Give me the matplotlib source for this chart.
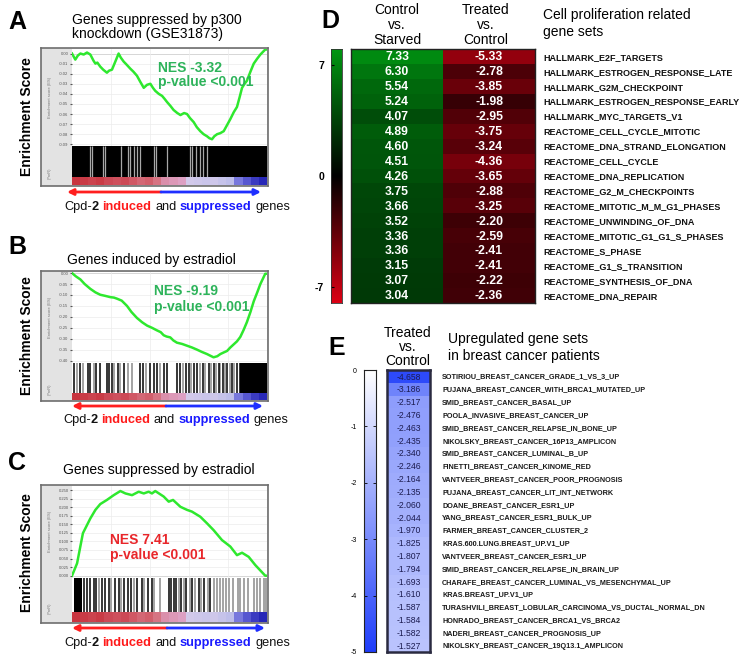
import numpy as np
import matplotlib
matplotlib.use('Agg')
import matplotlib.pyplot as plt
from matplotlib.colors import LinearSegmentedColormap

plt.rcParams['font.family'] = ['Liberation Sans', 'DejaVu Sans']

# ---------------- DATA ----------------
# Panel A : running enrichment score (rank in % of ranked list)
a_rank = [0, 1.7, 3, 4.3, 6, 7.7, 9.4, 11, 12, 13, 14.5, 16, 17.9, 19, 20.5, 22, 23.9, 25, 26.5, 28,
          29.9, 31.5, 33.3, 35, 36.8, 38.5, 40.2, 41.5, 42.7, 44.5, 46.2, 47.5, 48.7, 50.5, 52.1, 54,
          55.6, 57.5, 59, 60.5, 62.4, 64, 65.8, 67.5, 69.2, 70.5, 71.8, 73, 74.4, 76, 77.8, 79.5, 81.2,
          83, 84.6, 86, 87.2, 88.5, 89.7, 91.5, 93.2, 95, 96.6, 99.1]
a_es = [0.000, -0.006, -0.002, 0.000, -0.001, 0.001, -0.001, -0.007, -0.010, -0.009, -0.013, -0.016,
        -0.019, -0.017, -0.016, -0.009, 0.000, -0.004, -0.008, -0.011, -0.015, -0.018, -0.022, -0.028,
        -0.034, -0.031, -0.030, -0.034, -0.037, -0.040, -0.042, -0.045, -0.048, -0.052, -0.056, -0.059,
        -0.061, -0.059, -0.060, -0.064, -0.068, -0.073, -0.077, -0.080, -0.082, -0.084, -0.085, -0.082,
        -0.080, -0.079, -0.077, -0.071, -0.065, -0.058, -0.053, -0.043, -0.034, -0.030, -0.027, -0.018,
        -0.010, -0.005, -0.001, 0.004]
a_gaps = [9.4, 10.4, 15.7, 16.8, 25.3, 28.5, 29.9, 31.8, 33.3, 34.7, 41.9, 43.2, 48.7, 60.3, 61.5,
          63.4, 65.5, 67.0, 69.2]

# Panel B
b_rank = [0, 2, 4.3, 6.5, 9.4, 12, 14.5, 17, 19.7, 21.5, 23.1, 25.5, 28.2, 30.5, 33.3, 36, 38.5, 41,
          43.6, 45.5, 47.0, 48.5, 50.4, 52, 53.8, 56.5, 59.0, 61.5, 64.1, 66.5, 69.2, 71, 72.6, 74.5,
          76.1, 78, 79.5, 81.2, 82.9, 84.6, 86.3, 88, 89.7, 91.5, 93.2, 95, 96.6, 99.1]
b_es = [0.000, -0.015, -0.029, -0.050, -0.072, -0.088, -0.099, -0.104, -0.110, -0.112, -0.117, -0.126,
        -0.150, -0.178, -0.205, -0.225, -0.240, -0.250, -0.262, -0.270, -0.284, -0.290, -0.294, -0.308,
        -0.318, -0.324, -0.332, -0.340, -0.350, -0.360, -0.370, -0.378, -0.385, -0.380, -0.370, -0.362,
        -0.356, -0.340, -0.326, -0.312, -0.292, -0.260, -0.224, -0.178, -0.129, -0.088, -0.050, -0.003]
b_dark = [0.9, 4.3, 8.0, 9.4, 12.5, 14.2, 17.9, 19.0, 20.3, 23.4, 26.8, 35.0, 36.4, 40.2, 41.9, 43.6,
          47.0, 48.7, 53.8, 55.6, 58.3, 59.8, 62.4, 64.1, 67.2, 70.1, 72.6, 75.2, 77.4, 79.5, 82.1,
          84.6, 86.0]
b_grey = [2.6, 5.6, 11.1, 21.7, 24.8, 28.5, 30.8, 38.1, 45.3, 56.9, 61.0, 65.5, 68.4, 71.3, 74.0,
          76.1, 78.6, 80.9, 83.3]
b_solid = [(86.3, 100)]

# Panel C
c_rank = [0, 2.6, 5.6, 9.4, 12.0, 14.5, 17.9, 21.4, 24.8, 27.4, 30.8, 34.2, 36.8, 39.3, 41.0, 42.7,
          47.0, 49.6, 51.8, 55.6, 59.0, 61.5, 65.8, 69.2, 72.6, 76.9, 81.2, 84.6, 87.2, 90.6, 94.0, 99.1]
c_es = [0.0, 0.036, 0.124, 0.167, 0.192, 0.209, 0.221, 0.235, 0.247, 0.240, 0.235, 0.245, 0.240, 0.245,
        0.240, 0.247, 0.231, 0.216, 0.221, 0.201, 0.192, 0.187, 0.172, 0.153, 0.133, 0.104, 0.085,
        0.060, 0.067, 0.055, 0.031, 0.0]
c_dark = [6.0, 7.7, 9.4, 11.1, 12.5, 15.4, 17.1, 18.8, 22.2, 23.9, 26.5, 28.5, 30.3, 33.3, 35.9, 38.8,
          41.0, 49.6, 50.8, 52.1, 53.5, 55.9, 58.6, 61.5, 64.9, 67.8, 70.9]
c_grey = [13.7, 20.0, 25.1, 32.0, 37.1, 42.2, 45.3, 54.7, 57.3, 60.3, 63.2, 66.1, 69.6, 72.6, 74.4,
          76.1, 77.4, 78.8, 80.3, 82.6, 85.0, 86.3, 88.4, 90.1, 93.2, 94.9, 96.6, 98.3, 99.7]
c_solid = [(0.9, 5.1)]

# ranked-list metric strip (read left to right, +1 = red, -1 = blue)
metric = [0.95, 0.9, 0.85, 0.9, 0.8, 0.75, 0.8, 0.7, 0.6, 0.65, 0.5, 0.35, 0.3, 0.25, -0.05, -0.1,
          -0.15, -0.1, -0.2, -0.3, -0.55, -0.7, -0.85, -0.95]

# Panel D
d_sets = ["HALLMARK_E2F_TARGETS", "HALLMARK_ESTROGEN_RESPONSE_LATE", "HALLMARK_G2M_CHECKPOINT",
          "HALLMARK_ESTROGEN_RESPONSE_EARLY", "HALLMARK_MYC_TARGETS_V1", "REACTOME_CELL_CYCLE_MITOTIC",
          "REACTOME_DNA_STRAND_ELONGATION", "REACTOME_CELL_CYCLE", "REACTOME_DNA_REPLICATION",
          "REACTOME_G2_M_CHECKPOINTS", "REACTOME_MITOTIC_M_M_G1_PHASES", "REACTOME_UNWINDING_OF_DNA",
          "REACTOME_MITOTIC_G1_G1_S_PHASES", "REACTOME_S_PHASE", "REACTOME_G1_S_TRANSITION",
          "REACTOME_SYNTHESIS_OF_DNA", "REACTOME_DNA_REPAIR"]
d_ctrl_vs_starved = [7.33, 6.30, 5.54, 5.24, 4.07, 4.89, 4.60, 4.51, 4.26, 3.75, 3.66, 3.52, 3.36, 3.36,
                     3.15, 3.07, 3.04]
d_treated_vs_ctrl = [-5.33, -2.78, -3.85, -1.98, -2.95, -3.75, -3.24, -4.36, -3.65, -2.88, -3.25, -2.20,
                     -2.59, -2.41, -2.41, -2.22, -2.36]
d_cbar_ticks = [7, 0, -7]

# Panel E
e_sets = ["SOTIRIOU_BREAST_CANCER_GRADE_1_VS_3_UP", "PUJANA_BREAST_CANCER_WITH_BRCA1_MUTATED_UP",
          "SMID_BREAST_CANCER_BASAL_UP", "POOLA_INVASIVE_BREAST_CANCER_UP",
          "SMID_BREAST_CANCER_RELAPSE_IN_BONE_UP", "NIKOLSKY_BREAST_CANCER_16P13_AMPLICON",
          "SMID_BREAST_CANCER_LUMINAL_B_UP", "FINETTI_BREAST_CANCER_KINOME_RED",
          "VANTVEER_BREAST_CANCER_POOR_PROGNOSIS", "PUJANA_BREAST_CANCER_LIT_INT_NETWORK",
          "DOANE_BREAST_CANCER_ESR1_UP", "YANG_BREAST_CANCER_ESR1_BULK_UP",
          "FARMER_BREAST_CANCER_CLUSTER_2", "KRAS.600.LUNG.BREAST_UP.V1_UP",
          "VANTVEER_BREAST_CANCER_ESR1_UP", "SMID_BREAST_CANCER_RELAPSE_IN_BRAIN_UP",
          "CHARAFE_BREAST_CANCER_LUMINAL_VS_MESENCHYMAL_UP", "KRAS.BREAST_UP.V1_UP",
          "TURASHVILI_BREAST_LOBULAR_CARCINOMA_VS_DUCTAL_NORMAL_DN", "HONRADO_BREAST_CANCER_BRCA1_VS_BRCA2",
          "NADERI_BREAST_CANCER_PROGNOSIS_UP", "NIKOLSKY_BREAST_CANCER_19Q13.1_AMPLICON"]
e_values = [-4.658, -3.186, -2.517, -2.476, -2.463, -2.435, -2.340, -2.246, -2.164, -2.135, -2.060,
            -2.044, -1.970, -1.825, -1.807, -1.794, -1.693, -1.610, -1.587, -1.584, -1.582, -1.527]
e_cbar_ticks = [0, -1, -2, -3, -4, -5]

# ---------------- FIGURE ----------------
W, H = 750, 660
fig = plt.figure(figsize=(7.5, 6.6), dpi=100)


def px_axes(x0, y0, x1, y1, **kw):
    return fig.add_axes([x0 / W, 1 - y1 / H, (x1 - x0) / W, (y1 - y0) / H], **kw)


def clear(ax):
    ax.set_xticks([])
    ax.set_yticks([])


metric_cmap = LinearSegmentedColormap.from_list(
    'metric', [(0.0, (0.12, 0.12, 0.70)), (0.2, (0.42, 0.42, 0.86)), (0.35, (0.75, 0.75, 0.92)),
               (0.5, (0.84, 0.80, 0.92)), (0.62, (0.87, 0.64, 0.78)), (0.75, (0.84, 0.46, 0.52)),
               (1.0, (0.78, 0.18, 0.22))])

GREEN_LINE = '#2ee82e'


def gsea(box, curve_bot, bar_bot, rank, es, ylim, yticks, fmt, black_bg, dark, grey, solid):
    x0, y0, x1, y1 = box
    outer = px_axes(x0, y0, x1, y1)
    outer.set_facecolor('#e3e3e3')
    clear(outer)
    for s in outer.spines.values():
        s.set_color('#6e6e6e')
        s.set_linewidth(1.2)
    cy = (y0 + curve_bot) / 2
    outer.text(50, cy, 'Enrichment score (ES)', rotation=90, fontsize=3.0, color='#777',
               ha='center', va='center', transform=None)
    fig_txt = outer.texts[-1]
    fig_txt.set_transform(fig.transFigure)
    fig_txt.set_position((50 / W, 1 - cy / H))
    t2 = outer.text(50 / W, 1 - (bar_bot - 4) / H, '(PreR)', rotation=90, fontsize=2.8,
                    color='#777', ha='center', va='center', transform=fig.transFigure)

    cax = px_axes(72, y0 + 1, x1 - 1, curve_bot)
    cax.set_facecolor('white')
    cax.plot(rank + [100], es + [es[-1]], color=GREEN_LINE, lw=1.8, solid_joinstyle='round')
    cax.set_xlim(0, 100)
    cax.set_ylim(*ylim)
    cax.axhline(0, color='#9a9a9a', lw=0.6, zorder=0)
    cax.set_xticks([20, 40, 60, 80])
    cax.tick_params(axis='x', length=0, labelbottom=False)
    cax.set_yticks(yticks)
    cax.set_yticklabels([fmt.format(v) for v in yticks])
    cax.tick_params(axis='y', labelsize=3.0, colors='#555', length=1.5, pad=1)
    cax.grid(color='#ececec', lw=0.5)
    cax.set_axisbelow(True)
    for s in cax.spines.values():
        s.set_visible(False)

    bax = px_axes(72, curve_bot, x1 - 1, bar_bot)
    bax.set_xlim(0, 100)
    bax.set_ylim(0, 1)
    clear(bax)
    for s in bax.spines.values():
        s.set_visible(False)
    if black_bg:
        bax.set_facecolor('black')
        bax.vlines(grey, 0, 1, color='#a8a8a8', lw=0.9)
    else:
        bax.set_facecolor('white')
        for (a, b) in solid:
            bax.axvspan(a, b, color='black', lw=0)
        bax.vlines(grey, 0, 1, color='#8a8a8a', lw=1.1)
        bax.vlines(dark, 0, 1, color='black', lw=1.1)

    max_ = px_axes(72, bar_bot, x1 - 1, y1 - 1)
    max_.imshow(np.array([metric]), cmap=metric_cmap, vmin=-1, vmax=1, aspect='auto',
                extent=(0, 100, 0, 1), interpolation='nearest')
    clear(max_)
    for s in max_.spines.values():
        s.set_visible(False)


gsea((41, 48, 268, 186), 146, 177, a_rank, a_es, (-0.0917, 0.0045),
     [0.00, -0.01, -0.02, -0.03, -0.04, -0.05, -0.06, -0.07, -0.08, -0.09], '{:.2f}',
     True, [], a_gaps, [])
gsea((41, 271, 268, 401), 363, 393, b_rank, b_es, (-0.411, 0.005),
     [0.00, -0.05, -0.10, -0.15, -0.20, -0.25, -0.30, -0.35, -0.40], '{:.2f}',
     False, b_dark, b_grey, b_solid)
gsea((41, 485, 268, 623), 578, 612, c_rank, c_es, (-0.0067, 0.2617),
     [0.0, 0.025, 0.05, 0.075, 0.1, 0.125, 0.15, 0.175, 0.2, 0.225, 0.25], '{:.3f}',
     False, c_dark, c_grey, c_solid)

# ---------------- Panel D heatmap ----------------
d_cmap = LinearSegmentedColormap.from_list('rg', [(0.86, 0.0, 0.08), (0, 0, 0), (0.0, 0.59, 0.07)])
nD = len(d_sets)
dax = px_axes(351, 49, 535, 303)
matD = np.column_stack([d_ctrl_vs_starved, d_treated_vs_ctrl])
dax.imshow(matD, cmap=d_cmap, vmin=-8, vmax=8, aspect='auto', extent=(0, 2, nD, 0),
           interpolation='nearest')
dax.set_xlim(0, 2)
dax.set_ylim(nD, 0)
clear(dax)
for s in dax.spines.values():
    s.set_color('#222')
    s.set_linewidth(1.0)
for i in range(nD):
    for j in range(2):
        dax.text(j + 0.5, i + 0.55, '{:.2f}'.format(matD[i, j]), ha='center', va='center',
                 color='white', fontsize=8.8, fontweight='bold')
    dax.text(2.09, i + 0.55, d_sets[i], ha='left', va='center', fontsize=6.5,
             fontweight='bold', color='#111', clip_on=False)

dcb = px_axes(331, 49, 342, 303)
dcb.imshow(np.linspace(8, -8, 256)[:, None], cmap=d_cmap, vmin=-8, vmax=8, aspect='auto',
           extent=(0, 1, -8, 8))
dcb.set_ylim(-8, 8)
dcb.set_xticks([])
dcb.set_yticks(d_cbar_ticks)
dcb.set_yticklabels([str(t) for t in d_cbar_ticks])
dcb.tick_params(axis='y', labelsize=7.5, length=2, direction='in', pad=5, width=0.8)
for lab in dcb.get_yticklabels():
    lab.set_fontweight('bold')
for s in dcb.spines.values():
    s.set_color('#333')
    s.set_linewidth(0.6)

# ---------------- Panel E heatmap ----------------
e_cmap = LinearSegmentedColormap.from_list('wb', [(0.12, 0.24, 0.98), (1, 1, 1)])
nE = len(e_values)
eax = px_axes(387, 370, 430, 652)
eax.imshow(np.array(e_values)[:, None], cmap=e_cmap, vmin=-5, vmax=0, aspect='auto',
           extent=(0, 1, nE, 0), interpolation='nearest')
eax.set_xlim(0, 1)
eax.set_ylim(nE, 0)
clear(eax)
for s in eax.spines.values():
    s.set_color('#2a2a40')
    s.set_linewidth(1.8)
for i in range(nE):
    eax.text(0.5, i + 0.55, '{:.3f}'.format(e_values[i]), ha='center', va='center',
             color='#1c1c50', fontsize=6.2)
    eax.text(1.28, i + 0.55, e_sets[i], ha='left', va='center', fontsize=5.2,
             fontweight='bold', color='#1a1a1a', clip_on=False)

ecb = px_axes(364, 370, 376, 652)
ecb.imshow(np.linspace(0, -5, 256)[:, None], cmap=e_cmap, vmin=-5, vmax=0, aspect='auto',
           extent=(0, 1, -5, 0))
ecb.set_ylim(-5, 0)
ecb.set_xticks([])
ecb.set_yticks(e_cbar_ticks)
ecb.set_yticklabels([str(t) for t in e_cbar_ticks])
ecb.tick_params(axis='y', labelsize=5, length=2, direction='in', pad=5, width=0.6,
                right=True)
for s in ecb.spines.values():
    s.set_color('#222')
    s.set_linewidth(0.8)

# ---------------- Overlay text ----------------
ov = fig.add_axes([0, 0, 1, 1])
ov.set_xlim(0, W)
ov.set_ylim(H, 0)
ov.axis('off')
ov.patch.set_alpha(0)

for lab, x, y in [('A', 17, 22), ('B', 17, 247), ('C', 17, 463), ('D', 330, 21), ('E', 337, 348)]:
    ov.text(x, y, lab, fontsize=18, fontweight='bold', ha='center', va='center')

# Titles
ov.text(72, 20, 'Genes suppressed by p300', fontsize=10, ha='left', va='center')
ov.text(72, 34, 'knockdown (GSE31873)', fontsize=10, ha='left', va='center')
ov.text(151, 260, 'Genes induced by estradiol', fontsize=10, ha='center', va='center')
ov.text(159, 470, 'Genes suppressed by estradiol', fontsize=10, ha='center', va='center')

# Y labels
for yc in [117, 336, 553]:
    ov.text(27, yc, 'Enrichment Score', rotation=90, fontsize=10, fontweight='bold',
            ha='center', va='center')

# NES annotations
NES_GREEN = '#2db35a'
ov.text(158, 68, 'NES -3.32', fontsize=10, fontweight='bold', color=NES_GREEN, va='center')
ov.text(158, 82, 'p-value <0.001', fontsize=10, fontweight='bold', color=NES_GREEN, va='center')
ov.text(154, 291, 'NES -9.19', fontsize=10, fontweight='bold', color=NES_GREEN, va='center')
ov.text(154, 307, 'p-value <0.001', fontsize=10, fontweight='bold', color=NES_GREEN, va='center')
ov.text(110, 540, 'NES 7.41', fontsize=10, fontweight='bold', color='#e8262a', va='center')
ov.text(110, 555, 'p-value <0.001', fontsize=10, fontweight='bold', color='#e8262a', va='center')

# Arrows
RED = '#ff1f1f'
BLUE = '#1f2fff'
for y, xl, xm, xr in [(192, 67, 161, 261), (406, 72, 166, 263), (628, 72, 167, 265)]:
    ov.annotate('', xy=(xl, y), xytext=(xm, y),
                arrowprops=dict(arrowstyle='-|>', color=RED, lw=2, mutation_scale=9,
                                shrinkA=0, shrinkB=0))
    ov.annotate('', xy=(xr, y), xytext=(xm, y),
                arrowprops=dict(arrowstyle='-|>', color=BLUE, lw=2, mutation_scale=9,
                                shrinkA=0, shrinkB=0))

renderer = fig.canvas.get_renderer()


def text_width(s, **kw):
    t = ov.text(0, 0, s, **kw)
    w = t.get_window_extent(renderer).width
    t.remove()
    return w


FS = 9.2
space = text_width('a a', fontsize=FS) - text_width('aa', fontsize=FS)
parts = [('Cpd-', '#111', 'normal'), ('2', '#111', 'bold'), ('induced', '#ff1a1a', 'bold'),
         ('and', '#111', 'normal'), ('suppressed', '#1a1aff', 'bold'), ('genes', '#111', 'normal')]


def mixed(xc, y):
    widths = [text_width(p[0], fontsize=FS, fontweight=p[2]) for p in parts]
    total = sum(widths) + space * 4
    x = xc - total / 2
    for k, (s, c, wgt) in enumerate(parts):
        ov.text(x, y, s, fontsize=FS, fontweight=wgt, color=c, ha='left', va='center')
        x += widths[k]
        if k >= 1:
            x += space


for xc, y in [(177, 207), (176, 420), (177, 643)]:
    mixed(xc, y)

# Panel D headers
for xc, lines in [(397, ['Control', 'vs.', 'Starved']), (486, ['Treated', 'vs.', 'Control'])]:
    for k, s in enumerate(lines):
        ov.text(xc, 10 + 15 * k, s, fontsize=10, ha='center', va='center')
ov.text(543, 15, 'Cell proliferation related', fontsize=10, ha='left', va='center')
ov.text(543, 32, 'gene sets', fontsize=10, ha='left', va='center')

# Panel E headers
for k, s in enumerate(['Treated', 'vs.', 'Control']):
    ov.text(408, 333 + 14 * k, s, fontsize=10, ha='center', va='center')
ov.text(448, 339, 'Upregulated gene sets', fontsize=10, ha='left', va='center')
ov.text(448, 356, 'in breast cancer patients', fontsize=10, ha='left', va='center')

fig.savefig('out.png', dpi=100)
